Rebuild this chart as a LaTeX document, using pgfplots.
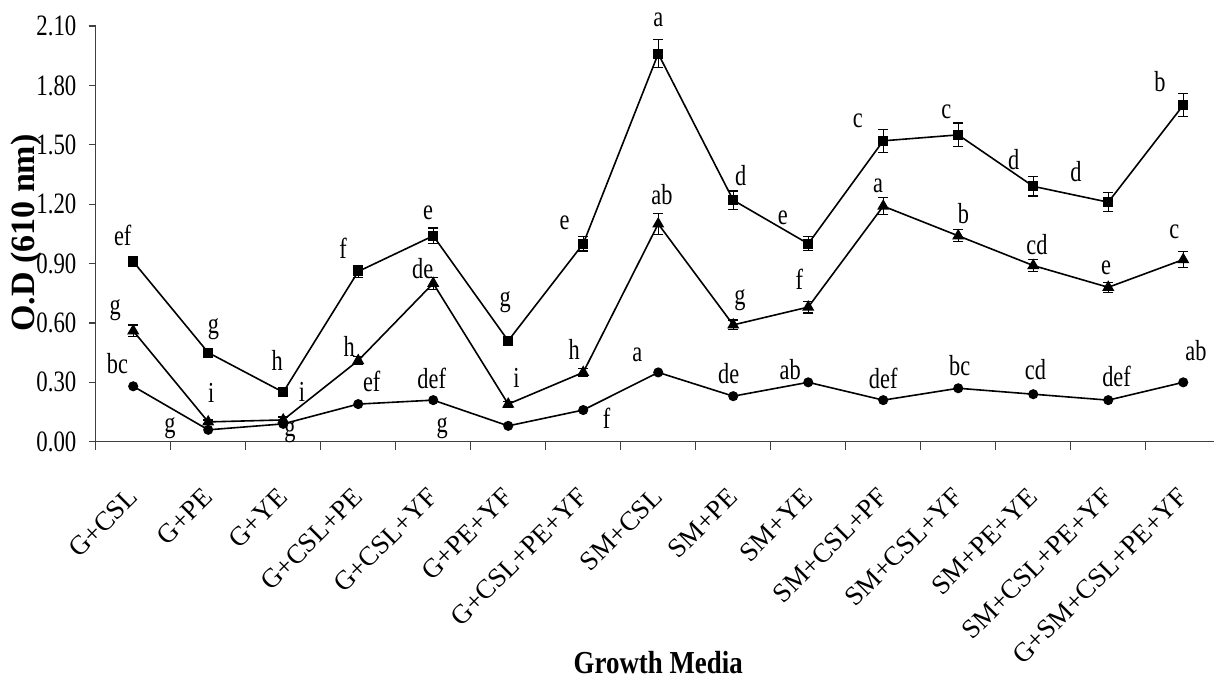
\documentclass[border=0pt]{standalone}
\usepackage{fontspec}
\setmainfont[FakeStretch=0.77]{Liberation Serif}
\newfontfamily\plainserif{Liberation Serif}
\newfontfamily\titlefont[FakeStretch=0.84]{Liberation Serif}
\usepackage{pgfplots}
\pgfplotsset{compat=1.18}
\usepackage{pgfplotstable}

\pgfplotstableread{
x y e
0 0.91 0.025
1 0.45 0.015
2 0.25 0.02
3 0.86 0.03
4 1.04 0.04
5 0.51 0.015
6 1.00 0.037
7 1.96 0.07
8 1.22 0.046
9 1.00 0.035
10 1.52 0.059
11 1.55 0.06
12 1.29 0.049
13 1.21 0.047
14 1.70 0.058
}\sqdata

\pgfplotstableread{
x y e
0 0.56 0.03
1 0.10 0.01
2 0.11 0.015
3 0.41 0.02
4 0.80 0.03
5 0.19 0.015
6 0.35 0.02
7 1.10 0.054
8 0.59 0.025
9 0.68 0.03
10 1.19 0.044
11 1.04 0.03
12 0.89 0.03
13 0.78 0.025
14 0.92 0.04
}\tridata

\pgfplotstableread{
x y
0 0.28
1 0.06
2 0.09
3 0.19
4 0.21
5 0.08
6 0.16
7 0.35
8 0.23
9 0.30
10 0.21
11 0.27
12 0.24
13 0.21
14 0.30
}\cirdata

\begin{document}
\begin{tikzpicture}
\useasboundingbox (-47.85pt,-119.15pt) rectangle (559.15pt,220.85pt);
\begin{axis}[
  at={(0pt,0pt)}, anchor=south west,
  scale only axis, width=559.15pt, height=207.85pt,
  xmin=-0.5, xmax=14.41, ymin=0, ymax=2.1,
  clip=false,
  axis x line=bottom, axis y line=left,
  axis line style={-, line width=0.6pt, black!75},
  tick align=outside,
  major tick length=3.5pt, minor tick length=4pt,
  tick style={line width=0.6pt, black!75},
  xtick={0,...,14},
  xticklabels={G+CSL,G+PE,G+YE,G+CSL+PE,G+CSL+YF,G+PE+YF,G+CSL+PE+YF,SM+CSL,SM+PE,SM+YE,SM+CSL+PF,SM+CSL+YF,SM+PE+YE,SM+CSL+PE+YF,G+SM+CSL+PE+YF},
  major x tick style={draw=none},
  minor xtick={-0.5,0.5,...,13.5},
  xticklabel shift=22pt,
  xticklabel style={font=\plainserif\fontsize{13.5}{14}\selectfont, rotate=45, anchor=east, inner sep=0pt},
  ytick={0,0.3,0.6,0.9,1.2,1.5,1.8,2.1},
  yticklabel style={font=\fontsize{14.8}{16}\selectfont, anchor=east, inner sep=0pt, xshift=-6pt,
    /pgf/number format/.cd, fixed, fixed zerofill, precision=2, assume math mode=true},
]
\addplot[black, line width=0.8pt, mark=square*, mark size=2.1pt,
  error bars/.cd, y dir=both, y explicit,
  error mark=-,
  error bar style={line width=0.6pt, black},
  error mark options={rotate=90, mark size=2.6pt, line width=0.6pt, black}]
  table[x=x, y=y, y error=e] {\sqdata};
\addplot[black, line width=0.8pt, mark=triangle*, mark size=2.7pt,
  error bars/.cd, y dir=both, y explicit,
  error mark=-,
  error bar style={line width=0.6pt, black},
  error mark options={rotate=90, mark size=2.6pt, line width=0.6pt, black}]
  table[x=x, y=y, y error=e] {\tridata};
\addplot[black, line width=0.8pt, mark=*, mark size=2.1pt]
  table[x=x, y=y] {\cirdata};

\tikzset{lt/.style={font=\fontsize{14.5}{15}\selectfont, inner sep=0pt}}
% square letters
\node[lt] at (axis cs:-0.14,1.044) {ef};
\node[lt] at (axis cs:1.07,0.568) {g};
\node[lt] at (axis cs:1.92,0.413) {h};
\node[lt] at (axis cs:2.80,0.977) {f};
\node[lt] at (axis cs:3.93,1.154) {e};
\node[lt] at (axis cs:4.96,0.707) {g};
\node[lt] at (axis cs:5.75,1.106) {e};
\node[lt] at (axis cs:7.00,2.13) {a};
\node[lt] at (axis cs:8.10,1.342) {d};
\node[lt] at (axis cs:8.66,1.129) {e};
\node[lt] at (axis cs:9.66,1.62) {c};
\node[lt] at (axis cs:10.84,1.667) {c};
\node[lt] at (axis cs:11.74,1.423) {d};
\node[lt] at (axis cs:12.57,1.364) {d};
\node[lt] at (axis cs:13.69,1.819) {b};
% triangle letters
\node[lt] at (axis cs:-0.24,0.665) {g};
\node[lt] at (axis cs:1.04,0.245) {i};
\node[lt] at (axis cs:2.25,0.253) {i};
\node[lt] at (axis cs:2.88,0.48) {h};
\node[lt] at (axis cs:3.86,0.876) {de};
\node[lt] at (axis cs:5.11,0.32) {i};
\node[lt] at (axis cs:5.88,0.467) {h};
\node[lt] at (axis cs:7.05,1.246) {ab};
\node[lt] at (axis cs:8.09,0.716) {g};
\node[lt] at (axis cs:8.88,0.82) {f};
\node[lt] at (axis cs:9.93,1.292) {a};
\node[lt] at (axis cs:11.07,1.154) {b};
\node[lt] at (axis cs:12.05,0.994) {cd};
\node[lt] at (axis cs:12.97,0.876) {e};
\node[lt] at (axis cs:13.88,1.061) {c};
% circle letters
\node[lt] at (axis cs:-0.21,0.396) {bc};
\node[lt] at (axis cs:0.49,0.07) {g};
\node[lt] at (axis cs:2.09,0.047) {g};
\node[lt] at (axis cs:3.18,0.303) {ef};
\node[lt] at (axis cs:3.98,0.32) {def};
\node[lt] at (axis cs:4.12,0.068) {g};
\node[lt] at (axis cs:6.31,0.118) {f};
\node[lt] at (axis cs:6.72,0.438) {a};
\node[lt] at (axis cs:7.94,0.346) {de};
\node[lt] at (axis cs:8.76,0.362) {ab};
\node[lt] at (axis cs:10.0,0.32) {def};
\node[lt] at (axis cs:11.02,0.387) {bc};
\node[lt] at (axis cs:12.03,0.366) {cd};
\node[lt] at (axis cs:13.11,0.332) {def};
\node[lt] at (axis cs:14.17,0.46) {ab};

\node[font=\plainserif\bfseries\fontsize{17}{19}\selectfont, rotate=90, anchor=base, inner sep=0pt]
  at ([xshift=-30.35pt]axis cs:-0.5,1.054) {O.D (610 nm)};
\node[font=\titlefont\bfseries\fontsize{16}{18}\selectfont, anchor=base, inner sep=0pt]
  at ([yshift=-116pt]axis cs:7,0) {Growth Media};
\end{axis}
\end{tikzpicture}
\end{document}
